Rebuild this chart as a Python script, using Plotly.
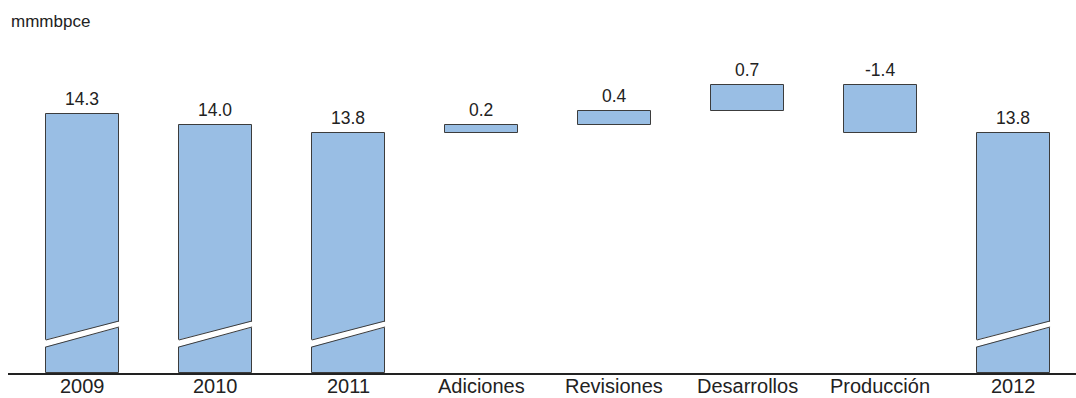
import plotly.graph_objects as go

categories = ["2009", "2010", "2011", "Adiciones", "Revisiones", "Desarrollos", "Producción", "2012"]
values = [14.3, 14.0, 13.8, 0.2, 0.4, 0.7, -1.3, 13.8]
labels = ["14.3", "14.0", "13.8", "0.2", "0.4", "0.7", "-1.4", "13.8"]
kinds = ["total", "total", "total", "delta", "delta", "delta", "delta", "total"]
unit = "mmmbpce"

Y_MIN, Y_MAX = 7.22, 16.34
BAR_W = 0.55
FILL = "#99BEE4"
EDGE = "#3c3c3c"
TXT = "#222222"
FONT = "Liberation Sans, Arial, sans-serif"

# compute bases/heights from values (waterfall logic)
bases, heights, tops = [], [], []
run = 0.0
for v, k in zip(values, kinds):
    if k == "total":
        bases.append(Y_MIN)
        heights.append(v - Y_MIN)
        run = v
        tops.append(v)
    else:
        lo, hi = (run, run + v) if v >= 0 else (run + v, run)
        bases.append(lo)
        heights.append(hi - lo)
        tops.append(hi)
        run = run + v

fig = go.Figure()
fig.add_trace(go.Bar(
    x=list(range(len(categories))), y=heights, base=bases, width=BAR_W,
    marker=dict(color=FILL, line=dict(color=EDGE, width=1)),
    hoverinfo="skip", showlegend=False,
))

annotations = []
for i, (t, lab) in enumerate(zip(tops, labels)):
    annotations.append(dict(
        x=i, y=t, xref="x", yref="y", text=lab, showarrow=False,
        yanchor="bottom", yshift=3, font=dict(size=17.5, color=TXT, family=FONT),
    ))
# category labels under the axis
for i, c in enumerate(categories):
    annotations.append(dict(
        x=i, y=0, xref="x", yref="paper", text=c, showarrow=False,
        yanchor="middle", yshift=-13, font=dict(size=20, color=TXT, family=FONT),
    ))
annotations.append(dict(
    x=0, y=1, xref="paper", yref="paper", text=unit, showarrow=False,
    xanchor="left", yanchor="middle", xshift=1, yshift=19,
    font=dict(size=17, color=TXT, family=FONT),
))

# broken-axis cut on total bars (break drawn at fixed position above the axis floor)
cut_lo_l, cut_lo_r = 7.932, 8.48
cut_hi_l, cut_hi_r = 8.124, 8.645
shapes = []
for i, k in enumerate(kinds):
    if k != "total":
        continue
    x0, x1 = i - BAR_W / 2, i + BAR_W / 2
    e = 0.012
    shapes.append(dict(
        type="path", xref="x", yref="y", layer="above",
        path=f"M {x0-e},{cut_lo_l} L {x1+e},{cut_lo_r} L {x1+e},{cut_hi_r} L {x0-e},{cut_hi_l} Z",
        fillcolor="white", line=dict(width=0),
    ))
    shapes.append(dict(type="line", xref="x", yref="y", x0=x0, y0=cut_lo_l, x1=x1, y1=cut_lo_r,
                       line=dict(color=EDGE, width=1)))
    shapes.append(dict(type="line", xref="x", yref="y", x0=x0, y0=cut_hi_l, x1=x1, y1=cut_hi_r,
                       line=dict(color=EDGE, width=1)))

fig.update_layout(
    width=1076, height=398,
    margin=dict(l=8, r=0, t=40, b=25),
    paper_bgcolor="white", plot_bgcolor="white",
    annotations=annotations, shapes=shapes,
    font=dict(family=FONT, color=TXT),
    bargap=0,
)
fig.update_xaxes(
    range=[-0.56, 7.47], showticklabels=False, showgrid=False, zeroline=False,
    showline=True, linecolor="#222222", linewidth=1.5, ticks="", automargin=False,
)
fig.update_yaxes(range=[Y_MIN, Y_MAX], visible=False, showgrid=False, zeroline=False)

fig.write_html("out.html")
